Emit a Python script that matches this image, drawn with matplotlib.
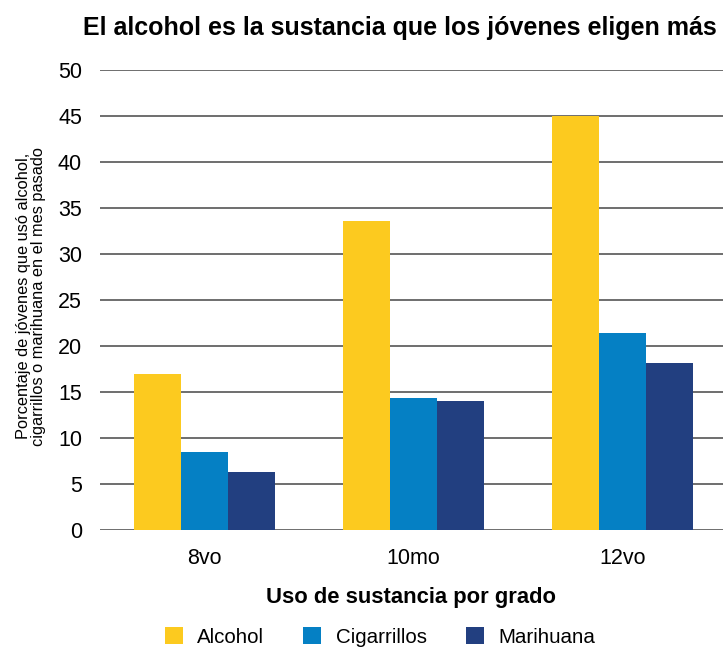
import matplotlib
matplotlib.use("Agg")
import matplotlib.pyplot as plt
import numpy as np

plt.rcParams['font.family'] = ['Liberation Sans', 'DejaVu Sans']

# Data
grados = ['8vo', '10mo', '12vo']
alcohol = [17.0, 33.6, 45.0]
cigarrillos = [8.5, 14.3, 21.4]
marihuana = [6.3, 14.0, 18.1]

series = ['Alcohol', 'Cigarrillos', 'Marihuana']
colores = ['#FCCA1F', '#0580C4', '#223F80']

fig = plt.figure(figsize=(7.23, 6.48), dpi=100)
ax = fig.add_axes([100 / 723, 1 - 530 / 648, 623 / 723, 460 / 648])

x = np.arange(len(grados))
w = 0.224
for i, (vals, name, col) in enumerate(zip([alcohol, cigarrillos, marihuana], series, colores)):
    ax.bar(x + (i - 1) * w, vals, width=w, color=col, label=name, zorder=3)

ax.set_ylim(0, 50)
ax.set_xlim(-0.5, 2.48)
ax.set_yticks(range(0, 51, 5))
ax.yaxis.grid(True, color='#555555', linewidth=1.2, zorder=0)
ax.set_xticks(x)
ax.set_xticklabels(grados)
ax.tick_params(length=0, labelsize=15.5, pad=13)
ax.tick_params(axis='y', pad=13)
for s in ax.spines.values():
    s.set_visible(False)

ax.set_xlabel('Uso de sustancia por grado', fontsize=15.8, fontweight='bold', labelpad=13)

fig.text(400 / 723, 1 - 28 / 648, 'El alcohol es la sustancia que los jóvenes eligen más',
         ha='center', va='center', fontsize=18, fontweight='bold')
fig.text(31 / 723, 1 - 296 / 648,
         'Porcentaje de jóvenes que usó alcohol,\ncigarrillos o marihuana en el mes pasado',
         rotation=90, ha='center', va='center', fontsize=11.8, linespacing=1.0)

fig.legend(loc='center', bbox_to_anchor=(380 / 723, 1 - 637 / 648), ncol=3, frameon=False,
           fontsize=14.8, handlelength=0.88, handleheight=0.88, columnspacing=1.9, handletextpad=0.7)

fig.savefig('out.png', dpi=100)
